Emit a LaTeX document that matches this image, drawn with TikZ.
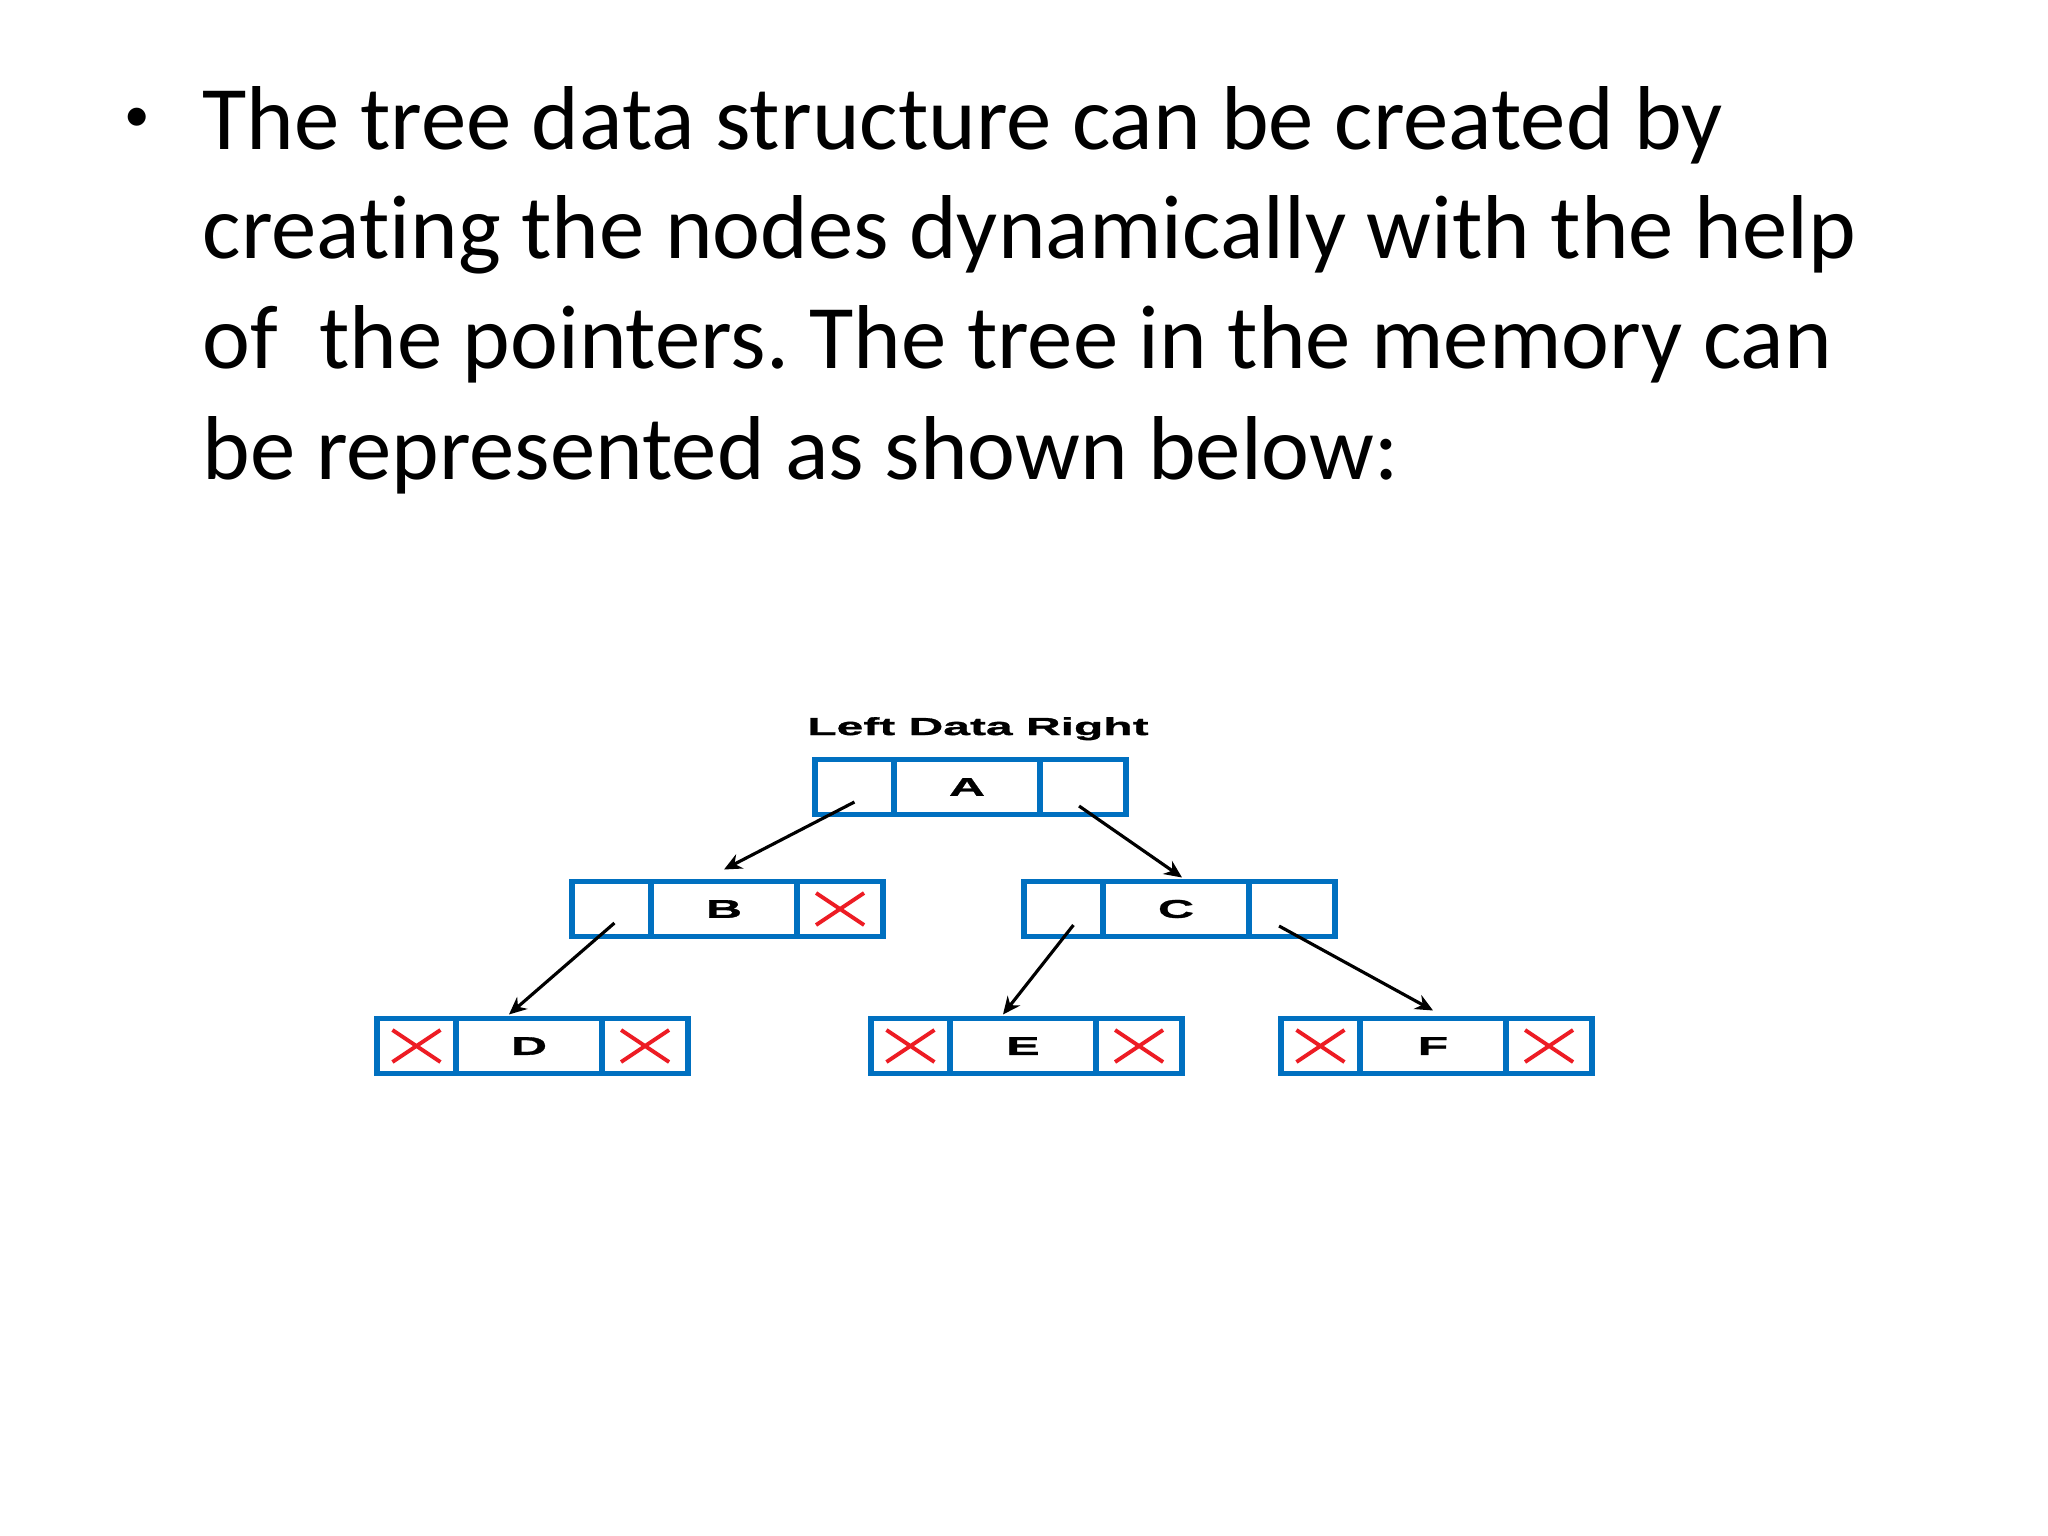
\documentclass[tikz,border=0pt]{standalone}
\usepackage{fontspec}
\setmainfont{Carlito}[Ligatures=NoCommon]
\newfontfamily\cellfont[FakeStretch=1.95,FakeBold=1.2]{Liberation Sans Bold}
\usetikzlibrary{arrows.meta,positioning,calc}
\definecolor{cellblue}{RGB}{0,112,192}
\definecolor{nullred}{RGB}{237,28,36}
\frenchspacing

\begin{document}
\begin{tikzpicture}[x=0.01cm,y=-0.01cm,
  slidetext/.style={font=\fontsize{25.8}{31}\selectfont},
  cell/.style={draw=cellblue,line width=1.6pt,minimum height=0.55cm,inner sep=0pt,outer sep=0pt,font=\cellfont\fontsize{7.3}{8}\selectfont},
  lcell/.style={cell,minimum width=0.79cm},
  dcell/.style={cell,minimum width=1.46cm},
  rcell/.style={cell,minimum width=0.86cm},
  ptr/.style={-{Stealth[length=5pt,width=4.5pt]},line width=0.9pt},
  nullx/.style={draw=nullred,line width=1.1pt}]
  \useasboundingbox[fill=white] (0,0) rectangle (2048,1536);
  % bullet text
  \node[font=\fontsize{14.5}{16}\selectfont,anchor=base] (dot) at (137,131) {•};
  \foreach \n/\y/\t in {l1/149/The tree data structure can be created by,
                        l2/258/creating the nodes dynamically with the help,
                        l3/368/of~~the pointers. The tree in the memory can,
                        l4/479/be represented as shown below:}
    \node[slidetext,anchor=base west,inner sep=0pt] (\n) at (202,\y) {\t};
  % memory records
  \node[anchor=base,font=\cellfont\fontsize{7}{8}\selectfont] (hdr) at (978,735) {Left Data Right};
  \foreach \rec/\x/\y in {A/967/787,B/724/909,C/1176/909,D/529/1046,E/1023/1046,F/1433/1046}{
    \node[dcell] (\rec d) at (\x,\y) {\rec};
    \node[lcell,left=0pt of \rec d] (\rec l) {};
    \node[rcell,right=0pt of \rec d] (\rec r) {};
  }
  % null pointers
  \foreach \c in {Br,Dl,Dr,El,Er,Fl,Fr}
    \draw[nullx] ($(\c)+(-24,-16)$) -- ($(\c)+(24,16)$) ($(\c)+(-24,16)$) -- ($(\c)+(24,-16)$);
  % links
  \draw[ptr] ([yshift=-0.15cm]Al.center) -- ([yshift=0.12cm]Bd.north);
  \draw[ptr] ([xshift=-0.04cm,yshift=-0.19cm]Ar.center) -- ([xshift=0.06cm,yshift=0.04cm]Cd.north);
  \draw[ptr] ([xshift=0.03cm,yshift=-0.14cm]Bl.center) -- ([xshift=-0.2cm,yshift=0.04cm]Dd.north);
  \draw[ptr] ([xshift=0.1cm,yshift=-0.16cm]Cl.center) -- ([xshift=-0.2cm,yshift=0.04cm]Ed.north);
  \draw[ptr] ([xshift=-0.13cm,yshift=-0.17cm]Cr.center) -- ([yshift=0.08cm]Fd.north);
\end{tikzpicture}
\end{document}
